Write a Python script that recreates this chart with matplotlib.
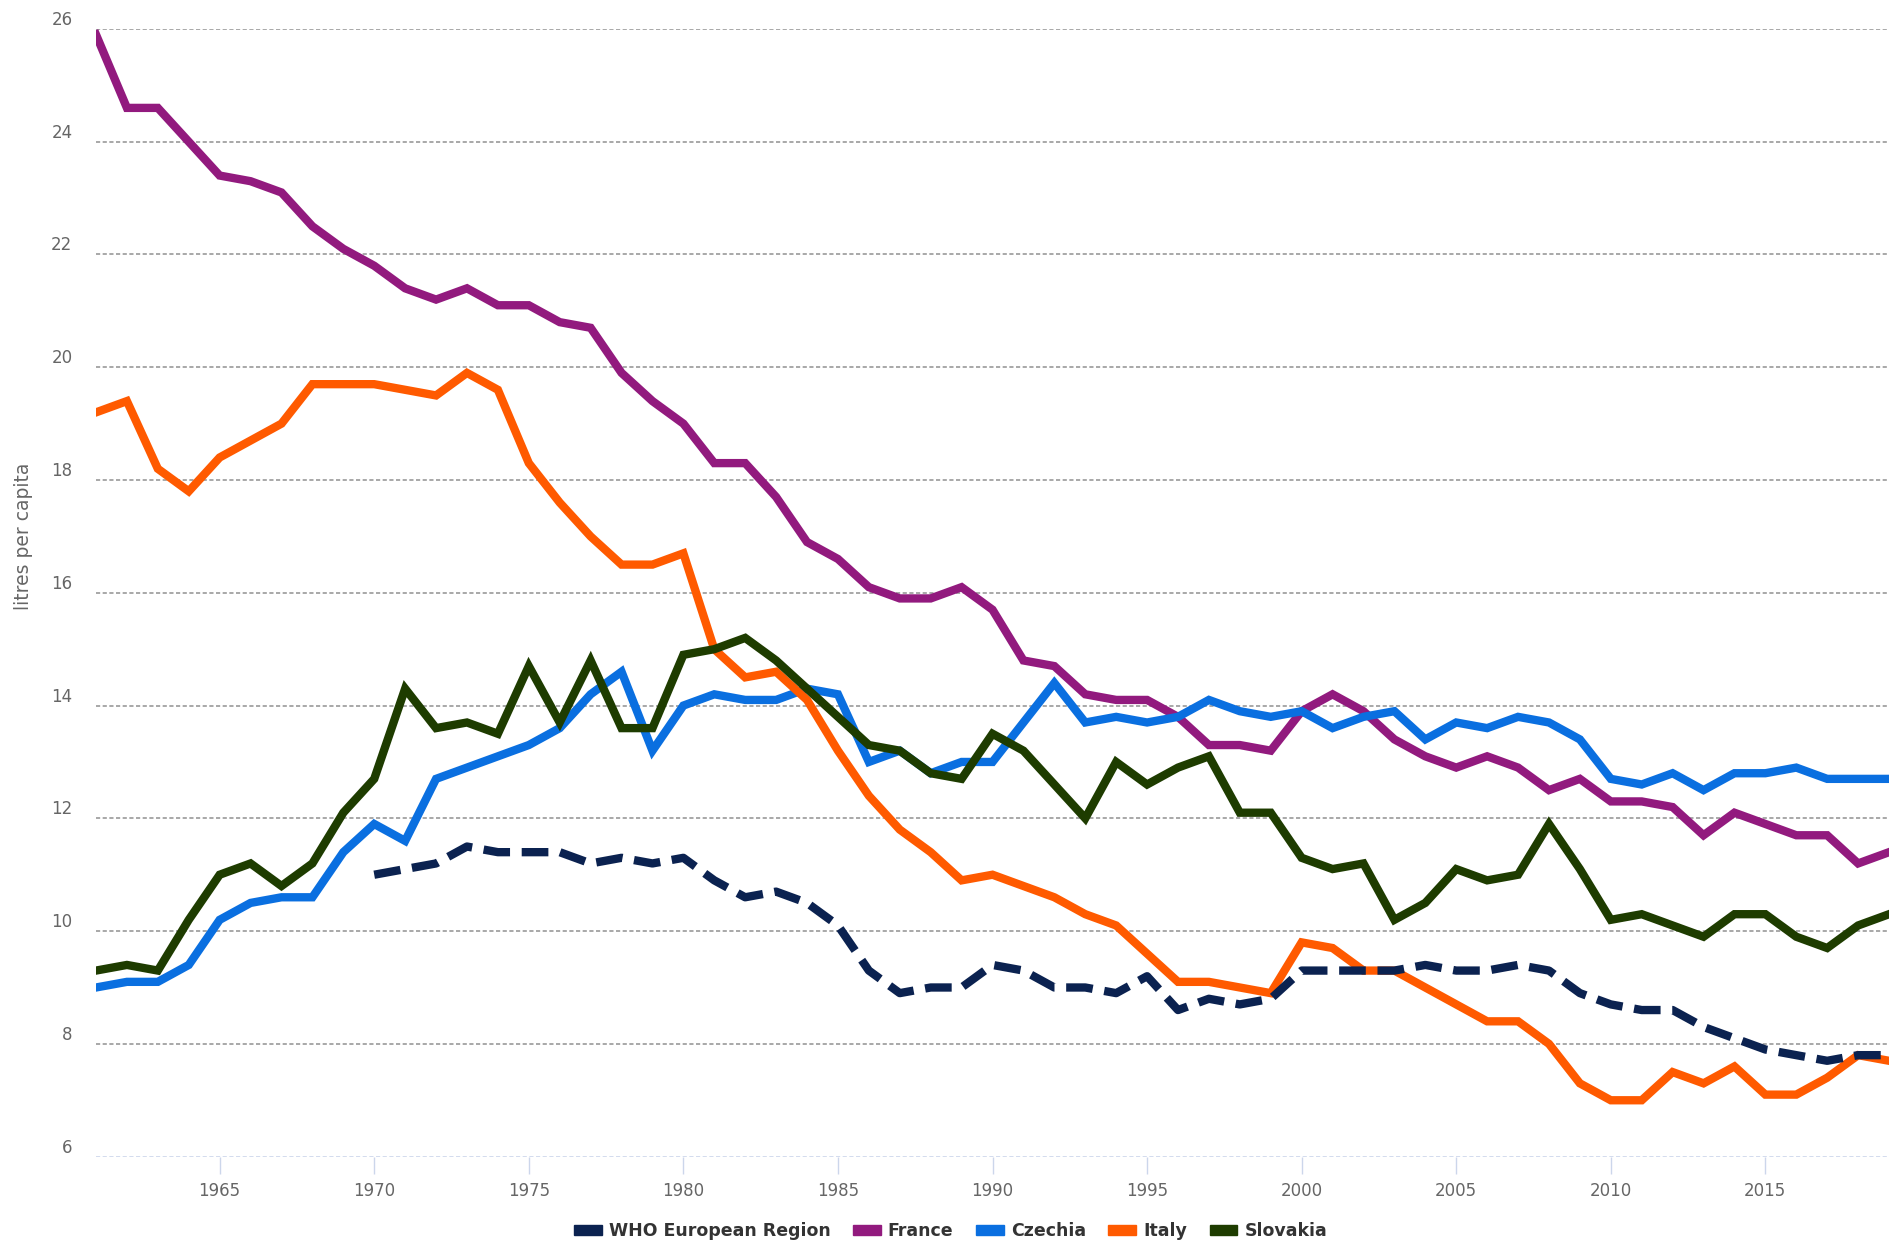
import matplotlib
matplotlib.use("Agg")
import matplotlib.pyplot as plt
from matplotlib.patches import Patch

years = list(range(1961, 2020))
who_years = list(range(1970, 2020))

france = [25.9, 24.6, 24.6, 24.0, 23.4, 23.3, 23.1, 22.5, 22.1, 21.8,
          21.4, 21.2, 21.4, 21.1, 21.1, 20.8, 20.7, 19.9, 19.4, 19.0,
          18.3, 18.3, 17.7, 16.9, 16.6, 16.1, 15.9, 15.9, 16.1, 15.7,
          14.8, 14.7, 14.2, 14.1, 14.1, 13.8, 13.3, 13.3, 13.2, 13.9,
          14.2, 13.9, 13.4, 13.1, 12.9, 13.1, 12.9, 12.5, 12.7, 12.3,
          12.3, 12.2, 11.7, 12.1, 11.9, 11.7, 11.7, 11.2, 11.4]

czechia = [9.0, 9.1, 9.1, 9.4, 10.2, 10.5, 10.6, 10.6, 11.4, 11.9,
           11.6, 12.7, 12.9, 13.1, 13.3, 13.6, 14.2, 14.6, 13.2, 14.0,
           14.2, 14.1, 14.1, 14.3, 14.2, 13.0, 13.2, 12.8, 13.0, 13.0,
           13.7, 14.4, 13.7, 13.8, 13.7, 13.8, 14.1, 13.9, 13.8, 13.9,
           13.6, 13.8, 13.9, 13.4, 13.7, 13.6, 13.8, 13.7, 13.4, 12.7,
           12.6, 12.8, 12.5, 12.8, 12.8, 12.9, 12.7, 12.7, 12.7]

italy = [19.2, 19.4, 18.2, 17.8, 18.4, 18.7, 19.0, 19.7, 19.7, 19.7,
         19.6, 19.5, 19.9, 19.6, 18.3, 17.6, 17.0, 16.5, 16.5, 16.7,
         15.0, 14.5, 14.6, 14.1, 13.2, 12.4, 11.8, 11.4, 10.9, 11.0,
         10.8, 10.6, 10.3, 10.1, 9.6, 9.1, 9.1, 9.0, 8.9, 9.8,
         9.7, 9.3, 9.3, 9.0, 8.7, 8.4, 8.4, 8.0, 7.3, 7.0,
         7.0, 7.5, 7.3, 7.6, 7.1, 7.1, 7.4, 7.8, 7.7]

slovakia = [9.3, 9.4, 9.3, 10.2, 11.0, 11.2, 10.8, 11.2, 12.1, 12.7,
            14.3, 13.6, 13.7, 13.5, 14.7, 13.7, 14.8, 13.6, 13.6, 14.9,
            15.0, 15.2, 14.8, 14.3, 13.8, 13.3, 13.2, 12.8, 12.7, 13.5,
            13.2, 12.6, 12.0, 13.0, 12.6, 12.9, 13.1, 12.1, 12.1, 11.3,
            11.1, 11.2, 10.2, 10.5, 11.1, 10.9, 11.0, 11.9, 11.1, 10.2,
            10.3, 10.1, 9.9, 10.3, 10.3, 9.9, 9.7, 10.1, 10.3]

who_europe = [11.0, 11.1, 11.2, 11.5, 11.4, 11.4, 11.4, 11.2, 11.3, 11.2,
              11.3, 10.9, 10.6, 10.7, 10.5, 10.1, 9.3, 8.9, 9.0, 9.0,
              9.4, 9.3, 9.0, 9.0, 8.9, 9.2, 8.6, 8.8, 8.7, 8.8,
              9.3, 9.3, 9.3, 9.3, 9.4, 9.3, 9.3, 9.4, 9.3, 8.9,
              8.7, 8.6, 8.6, 8.3, 8.1, 7.9, 7.8, 7.7, 7.8, 7.8]

series_names = ["WHO European Region", "France", "Czechia", "Italy", "Slovakia"]
colors = ["#0b2250", "#921a7e", "#0a6fe0", "#ff5a00", "#1e3c00"]
y_ticks = [6, 8, 10, 12, 14, 16, 18, 20, 22, 24, 26]
x_ticks = [1965, 1970, 1975, 1980, 1985, 1990, 1995, 2000, 2005, 2010, 2015]

font = ["DejaVu Sans"]

fig = plt.figure(figsize=(19.01, 12.48), dpi=100)
ax = fig.add_axes([0.0505, 0.0732, 0.9432, 0.9036])

lw = 6.0
ax.plot(years, france, color=colors[1], lw=lw, solid_joinstyle="miter", zorder=3)
ax.plot(years, czechia, color=colors[2], lw=lw, solid_joinstyle="miter", zorder=3)
ax.plot(years, italy, color=colors[3], lw=lw, solid_joinstyle="miter", zorder=3)
ax.plot(years, slovakia, color=colors[4], lw=lw, solid_joinstyle="miter", zorder=3)
ax.plot(who_years, who_europe, color=colors[0], lw=lw, linestyle=(0, (3.2, 1.4)),
        dash_capstyle="butt", zorder=4)

ax.set_xlim(1961, 2019)
ax.set_ylim(6, 26)

for y in y_ticks[1:]:
    ax.axhline(y, color="#9a9a9a", lw=1.2, linestyle=(0, (2.5, 1.5)), zorder=1)
ax.axhline(6, color="#ccd6eb", lw=1.2, linestyle=(0, (2.5, 1.5)), zorder=1)

for s in ax.spines.values():
    s.set_visible(False)

ax.set_yticks(y_ticks)
ax.set_yticklabels([str(v) for v in y_ticks], fontfamily=font, fontsize=12, color="#666666")
ax.set_xticks(x_ticks)
ax.set_xticklabels([str(v) for v in x_ticks], fontfamily=font, fontsize=12, color="#666666")
ax.tick_params(axis="y", length=0, pad=17)
ax.tick_params(axis="x", length=12, width=1, color="#ccd6eb", pad=6)
for lab in ax.get_yticklabels():
    lab.set_verticalalignment("bottom")

fig.text(0.0125, 0.57, "litres per capita", rotation=90, ha="center", va="center",
         fontfamily=font, fontsize=13.5, color="#666666")

handles = [Patch(facecolor=c, edgecolor=c) for c in colors]
leg = fig.legend(handles, series_names, loc="center", bbox_to_anchor=(0.5, 0.0135),
                 ncol=5, frameon=False, handlelength=1.6, handleheight=0.55,
                 columnspacing=1.3, handletextpad=0.4,
                 prop={"family": font, "size": 12.5, "weight": "bold"})
for t in leg.get_texts():
    t.set_color("#333333")

fig.savefig("out.png", dpi=100, facecolor="white")
